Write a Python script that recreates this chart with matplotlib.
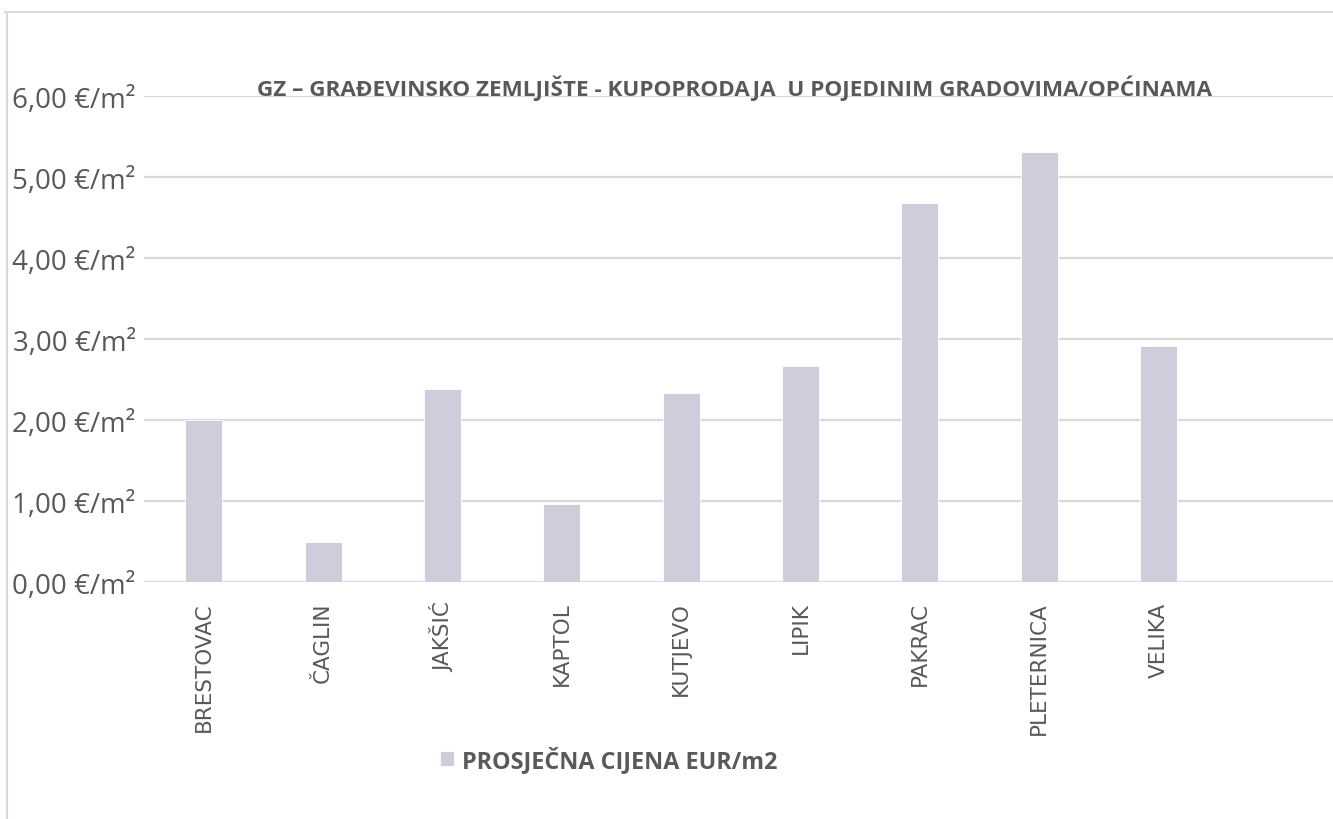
import matplotlib.pyplot as plt
from matplotlib.lines import Line2D
from matplotlib.ticker import FuncFormatter

# podaci
gradovi = ['BRESTOVAC', 'ČAGLIN', 'JAKŠIĆ', 'KAPTOL', 'KUTJEVO',
           'LIPIK', 'PAKRAC', 'PLETERNICA', 'VELIKA']
cijene = [2.00, 0.49, 2.38, 0.96, 2.33, 2.67, 4.68, 5.31, 2.91]
naslov = 'GZ – GRAĐEVINSKO ZEMLJIŠTE - KUPOPRODAJA  U POJEDINIM GRADOVIMA/OPĆINAMA'
serija = 'PROSJEČNA CIJENA EUR/m2'

siva = '#595959'
linija = '#d9d9d9'
boja = '#d1ccdc'

fig = plt.figure(figsize=(13.33, 8.2), dpi=100)
ax = fig.add_axes([0.108, 0.289, 0.892, 0.5927])

x = range(len(gradovi))
ax.bar(x, cijene, width=0.31, color=boja, edgecolor='white', linewidth=0.6,
       label=serija, zorder=3)

ax.set_ylim(0, 6)
ax.set_xlim(-0.5, 9.46)
ax.set_yticks([0, 1, 2, 3, 4, 5, 6])
ax.yaxis.set_major_formatter(FuncFormatter(lambda v, p: f'{v:.2f}'.replace('.', ',') + ' €/m²'))
ax.grid(axis='y', color=linija, linewidth=1.6, zorder=0)
ax.set_axisbelow(True)
for s in ax.spines.values():
    s.set_visible(False)
ax.tick_params(axis='both', length=0)
ax.tick_params(axis='y', pad=6, labelsize=20, labelcolor=siva)
for t in ax.get_yticklabels():
    t.set_fontfamily('Open Sans')

ax.set_xticks(list(x))
ax.set_xticklabels(gradovi, rotation=90, fontsize=15.5, color=siva, family='DejaVu Sans')
ax.tick_params(axis='x', pad=14)

fig.text(0.551, 0.892, naslov, ha='center', va='center', fontsize=16.2,
         fontweight='bold', color=siva, family='Open Sans')

leg = ax.legend(loc='center left', bbox_to_anchor=(0.314, 0.073),
                bbox_transform=fig.transFigure, frameon=False,
                handlelength=0.6, handleheight=0.6, handletextpad=0.35,
                prop={'family': 'Open Sans', 'weight': 'bold', 'size': 16.8})
for t in leg.get_texts():
    t.set_color(siva)

# okvir grafikona
fig.add_artist(Line2D([0.004, 1.0], [0.984, 0.984], color=linija, linewidth=1.5,
                      transform=fig.transFigure))
fig.add_artist(Line2D([0.0053, 0.0053], [0.0, 0.984], color=linija, linewidth=1.5,
                      transform=fig.transFigure))

fig.savefig('out.png', dpi=100)
